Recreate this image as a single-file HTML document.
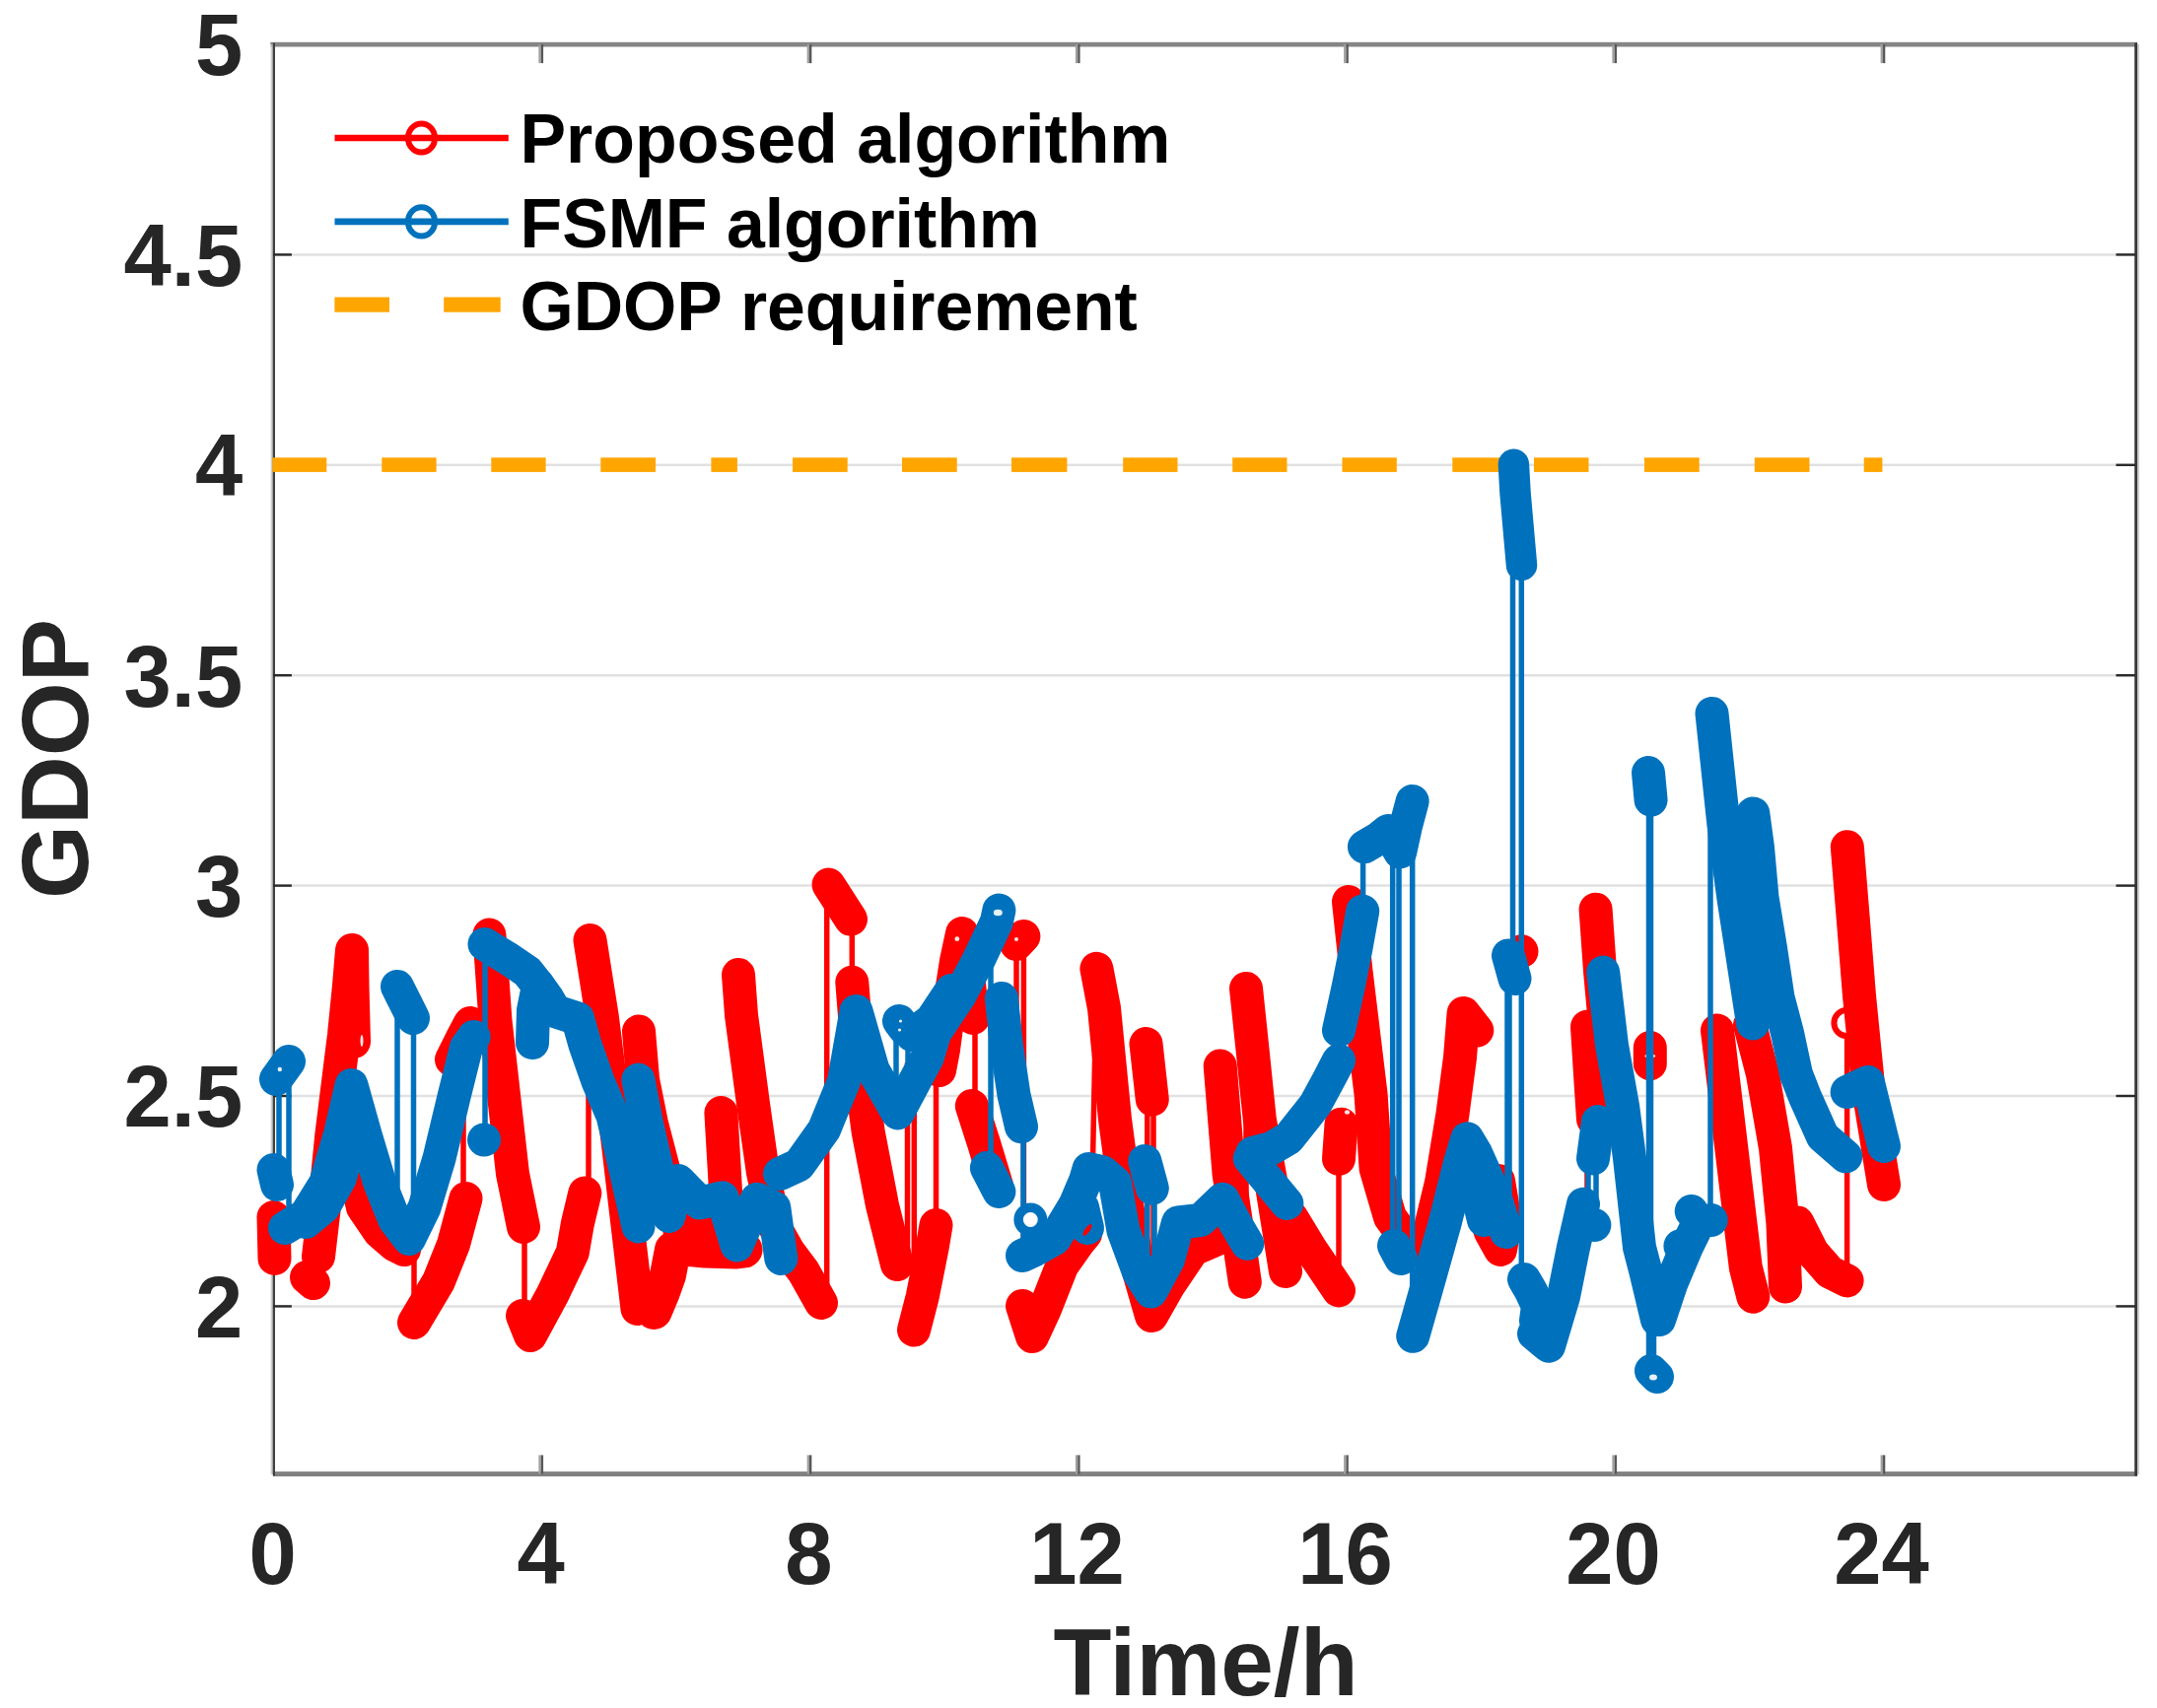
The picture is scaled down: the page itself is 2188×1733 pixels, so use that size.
<!DOCTYPE html>
<html lang="en"><head><meta charset="utf-8"><title>GDOP comparison</title>
<style>html,body{margin:0;padding:0;background:#fff}body{width:2188px;height:1733px;overflow:hidden}svg{display:block}#fig{width:2188px;height:1733px}text{font-family:"Liberation Sans",sans-serif;font-weight:bold}.tk{font-size:89px;fill:#262626}.al{font-size:96.5px;fill:#262626}.lg{font-size:70.5px;fill:#000}</style></head><body><div id="fig">
<svg width="2188" height="1733" viewBox="0 0 2188 1733">
<rect x="0" y="0" width="2188" height="1733" fill="#fff"/>
<g stroke="#e1e1e1" stroke-width="2.5" fill="none">
<line x1="277.2" y1="258.4" x2="2166.0" y2="258.4"/>
<line x1="277.2" y1="471.8" x2="2166.0" y2="471.8"/>
<line x1="277.2" y1="685.2" x2="2166.0" y2="685.2"/>
<line x1="277.2" y1="898.6" x2="2166.0" y2="898.6"/>
<line x1="277.2" y1="1112.0" x2="2166.0" y2="1112.0"/>
<line x1="277.2" y1="1325.4" x2="2166.0" y2="1325.4"/>
</g>
<rect x="274.30" y="42.80" width="1893.90" height="4.70" fill="#858585"/>
<rect x="276.90" y="1493.10" width="1891.30" height="4.90" fill="#818181"/>
<rect x="274.30" y="45.00" width="1.30" height="1451.00" fill="#e2e2e2"/>
<rect x="275.60" y="45.00" width="1.30" height="1451.00" fill="#a8a8a8"/>
<rect x="276.90" y="43.50" width="2.10" height="1454.00" fill="#404040"/>
<rect x="2165.20" y="43.50" width="2.80" height="1454.00" fill="#383838"/>
<rect x="2168.00" y="45.00" width="2.00" height="1451.00" fill="#cccccc"/>
<rect x="546.40" y="45.00" width="2.35" height="19.10" fill="#a0a0a0"/>
<rect x="548.75" y="45.00" width="2.35" height="19.10" fill="#585858"/>
<rect x="546.40" y="1476.40" width="2.35" height="19.10" fill="#a0a0a0"/>
<rect x="548.75" y="1476.40" width="2.35" height="19.10" fill="#585858"/>
<rect x="818.64" y="45.00" width="2.35" height="19.10" fill="#a0a0a0"/>
<rect x="820.99" y="45.00" width="2.35" height="19.10" fill="#585858"/>
<rect x="818.64" y="1476.40" width="2.35" height="19.10" fill="#a0a0a0"/>
<rect x="820.99" y="1476.40" width="2.35" height="19.10" fill="#585858"/>
<rect x="1090.88" y="45.00" width="2.35" height="19.10" fill="#a0a0a0"/>
<rect x="1093.23" y="45.00" width="2.35" height="19.10" fill="#585858"/>
<rect x="1090.88" y="1476.40" width="2.35" height="19.10" fill="#a0a0a0"/>
<rect x="1093.23" y="1476.40" width="2.35" height="19.10" fill="#585858"/>
<rect x="1363.12" y="45.00" width="2.35" height="19.10" fill="#a0a0a0"/>
<rect x="1365.47" y="45.00" width="2.35" height="19.10" fill="#585858"/>
<rect x="1363.12" y="1476.40" width="2.35" height="19.10" fill="#a0a0a0"/>
<rect x="1365.47" y="1476.40" width="2.35" height="19.10" fill="#585858"/>
<rect x="1635.36" y="45.00" width="2.35" height="19.10" fill="#a0a0a0"/>
<rect x="1637.71" y="45.00" width="2.35" height="19.10" fill="#585858"/>
<rect x="1635.36" y="1476.40" width="2.35" height="19.10" fill="#a0a0a0"/>
<rect x="1637.71" y="1476.40" width="2.35" height="19.10" fill="#585858"/>
<rect x="1907.60" y="45.00" width="2.35" height="19.10" fill="#a0a0a0"/>
<rect x="1909.95" y="45.00" width="2.35" height="19.10" fill="#585858"/>
<rect x="1907.60" y="1476.40" width="2.35" height="19.10" fill="#a0a0a0"/>
<rect x="1909.95" y="1476.40" width="2.35" height="19.10" fill="#585858"/>
<rect x="277.10" y="257.20" width="18.80" height="2.40" fill="#2a2a2a"/>
<rect x="2146.40" y="257.20" width="19.60" height="2.40" fill="#2a2a2a"/>
<rect x="277.10" y="470.60" width="18.80" height="2.40" fill="#2a2a2a"/>
<rect x="2146.40" y="470.60" width="19.60" height="2.40" fill="#2a2a2a"/>
<rect x="277.10" y="684.00" width="18.80" height="2.40" fill="#2a2a2a"/>
<rect x="2146.40" y="684.00" width="19.60" height="2.40" fill="#2a2a2a"/>
<rect x="277.10" y="897.40" width="18.80" height="2.40" fill="#2a2a2a"/>
<rect x="2146.40" y="897.40" width="19.60" height="2.40" fill="#2a2a2a"/>
<rect x="277.10" y="1110.80" width="18.80" height="2.40" fill="#2a2a2a"/>
<rect x="2146.40" y="1110.80" width="19.60" height="2.40" fill="#2a2a2a"/>
<rect x="277.10" y="1324.20" width="18.80" height="2.40" fill="#2a2a2a"/>
<rect x="2146.40" y="1324.20" width="19.60" height="2.40" fill="#2a2a2a"/>
<g fill="#ffa500">
<rect x="276.4" y="464.3" width="54.9" height="14.6"/>
<rect x="387.3" y="464.3" width="55.3" height="14.6"/>
<rect x="498.3" y="464.3" width="55.3" height="14.6"/>
<rect x="609.3" y="464.3" width="55.7" height="14.6"/>
<rect x="721.4" y="464.3" width="26.5" height="14.6"/>
<rect x="804.0" y="464.3" width="55.7" height="14.6"/>
<rect x="915.0" y="464.3" width="55.7" height="14.6"/>
<rect x="1026.0" y="464.3" width="56.4" height="14.6"/>
<rect x="1139.2" y="464.3" width="55.3" height="14.6"/>
<rect x="1250.2" y="464.3" width="55.3" height="14.6"/>
<rect x="1361.5" y="464.3" width="55.3" height="14.6"/>
<rect x="1473.3" y="464.3" width="56.7" height="14.6"/>
<rect x="1556.0" y="464.3" width="55.5" height="14.6"/>
<rect x="1668.0" y="464.3" width="55.7" height="14.6"/>
<rect x="1779.8" y="464.3" width="55.7" height="14.6"/>
<rect x="1890.7" y="464.3" width="18.7" height="14.6"/>
</g>
<clipPath id="cp"><rect x="257.2" y="45.0" width="1908.8" height="1450.0"/></clipPath>
<g clip-path="url(#cp)">
<g stroke="#ff0000" fill="none" stroke-linecap="butt" stroke-width="5.5">
<line x1="420.0" y1="1270.0" x2="420.0" y2="1342.0"/>
<line x1="470.0" y1="1040.0" x2="470.0" y2="1216.0"/>
<line x1="532.0" y1="1245.0" x2="532.0" y2="1340.0"/>
<line x1="597.0" y1="955.0" x2="597.0" y2="1210.0"/>
<line x1="838.7" y1="898.0" x2="838.7" y2="1322.0"/>
<line x1="864.3" y1="933.0" x2="864.3" y2="997.0"/>
<line x1="920.5" y1="1078.0" x2="920.5" y2="1290.0"/>
<line x1="927.3" y1="1085.0" x2="927.3" y2="1349.0"/>
<line x1="949.5" y1="1086.0" x2="949.5" y2="1243.0"/>
<line x1="989.0" y1="1033.0" x2="989.0" y2="1122.0"/>
<line x1="1031.0" y1="955.0" x2="1031.0" y2="1150.0"/>
<line x1="1038.4" y1="950.0" x2="1038.4" y2="1270.0"/>
<line x1="1163.8" y1="1115.0" x2="1163.8" y2="1335.0"/>
<line x1="1170.0" y1="1115.0" x2="1170.0" y2="1335.0"/>
<line x1="1264.0" y1="1003.0" x2="1264.0" y2="1300.0"/>
<line x1="1358.0" y1="1176.0" x2="1358.0" y2="1309.0"/>
<line x1="1610.0" y1="1135.0" x2="1610.0" y2="1215.0"/>
<line x1="1873.6" y1="1040.0" x2="1873.6" y2="1299.0"/>
<line x1="1107.0" y1="1253.0" x2="1112.4" y2="983.0"/>
</g>
<g stroke="#ff0000" fill="#fff" stroke-width="6">
<circle cx="1873.6" cy="1038.0" r="13.2" stroke-width="6"/>
</g>
<g stroke="#ff0000" fill="none" stroke-linecap="round" stroke-linejoin="round" stroke-width="34">
<polyline points="277.5,1235.0 278.5,1277.0"/>
<polyline points="311.0,1296.0 318.0,1302.0"/>
<polyline points="323.0,1275.0 330.0,1215.0 336.5,1150.0 349.0,1050.0 354.0,1000.0 357.0,964.0 357.5,1000.0 359.0,1057.0"/>
<polyline points="362.0,1200.0 368.0,1225.0 385.0,1250.0 400.0,1263.0 410.0,1268.0"/>
<polyline points="420.0,1342.0 445.0,1300.0 460.0,1262.5 472.5,1216.0"/>
<polyline points="458.0,1075.0 468.0,1055.0 477.0,1038.0"/>
<polyline points="496.4,948.5 502.4,1035.0 520.0,1191.0 531.0,1245.0"/>
<polyline points="530.0,1335.0 538.0,1355.0 560.7,1313.0 580.8,1270.7 585.8,1241.8 593.3,1210.5"/>
<polyline points="598.5,954.0 611.0,1033.0 626.3,1155.6 646.5,1328.0"/>
<polyline points="663.3,1330.5 671.0,1312.0 677.5,1293.8 682.5,1268.0 700.0,1266.5 715.4,1268.0 747.0,1269.0 755.0,1268.0" stroke-width="37"/>
<polyline points="648.0,1046.5 652.0,1095.0 661.0,1140.0 673.0,1186.0 685.0,1232.0 690.0,1250.0 710.0,1245.0 735.0,1242.0"/>
<polyline points="731.4,1129.0 736.4,1215.4 745.0,1255.0"/>
<polyline points="749.0,989.0 752.0,1030.0 758.0,1075.0 764.0,1120.0 774.0,1190.0 786.0,1245.0 800.0,1270.0 815.0,1290.0 833.0,1322.0"/>
<polyline points="840.5,897.6 863.0,932.7"/>
<polyline points="864.3,996.6 869.3,1060.5 880.6,1148.0 895.0,1223.0 910.0,1283.0"/>
<polyline points="927.0,1349.5 935.7,1315.7 945.7,1265.6 949.5,1243.0"/>
<polyline points="953.0,1086.0 957.0,1065.0 963.0,1020.0 970.0,975.0 976.0,947.0 982.0,990.0 987.0,1033.0"/>
<polyline points="985.8,1122.0 998.0,1160.0 1011.0,1203.0"/>
<polyline points="1031.0,958.0 1038.4,950.0"/>
<polyline points="1037.0,1325.0 1047.0,1356.0 1060.0,1328.0 1077.3,1284.2 1094.2,1260.3 1101.0,1252.0"/>
<polyline points="1112.4,982.8 1120.0,1023.0 1131.0,1135.7 1141.0,1211.0 1155.0,1290.0 1168.0,1335.0 1185.0,1305.0 1210.0,1268.0 1240.0,1255.0"/>
<polyline points="1162.5,1059.0 1168.8,1115.6"/>
<polyline points="1237.7,1081.4 1246.5,1190.4 1257.7,1265.6 1262.8,1300.7"/>
<polyline points="1264.0,1002.9 1270.0,1060.0 1277.8,1135.7 1290.3,1205.0 1304.0,1290.0"/>
<polyline points="1310.0,1235.0 1330.0,1268.0 1358.0,1309.4"/>
<polyline points="1358.0,1175.8 1360.5,1140.7"/>
<polyline points="1368.0,915.0 1375.5,985.3 1390.6,1110.6 1395.6,1185.8 1410.0,1235.0 1432.0,1265.0 1450.0,1250.0 1462.0,1200.0 1473.5,1130.0 1481.0,1073.0 1484.6,1028.0 1498.3,1045.5"/>
<polyline points="1543.5,965.3 1543.5,965.3"/>
<polyline points="1500.0,1215.0 1512.0,1250.0 1522.0,1268.0 1527.0,1240.0 1520.0,1198.0"/>
<polyline points="1618.6,922.7 1623.0,985.0 1628.0,1040.0"/>
<polyline points="1610.0,1041.7 1613.0,1090.0 1616.0,1135.7"/>
<polyline points="1673.8,1063.0 1673.8,1079.3"/>
<polyline points="1742.0,1045.5 1755.8,1160.8 1770.8,1286.0 1778.3,1315.7"/>
<polyline points="1775.0,1040.0 1788.0,1090.0 1801.0,1165.0 1808.4,1240.5 1811.0,1305.6"/>
<polyline points="1823.4,1240.5 1838.5,1270.6 1856.0,1290.6 1873.6,1299.4"/>
<polyline points="1873.8,859.2 1880.0,935.0 1886.0,1010.4 1896.0,1110.6 1911.0,1202.0"/>
</g>
<g fill="#fff" fill-opacity="0.9">
<ellipse cx="1673.8" cy="1071.5" rx="5.5" ry="2.2"/>
<ellipse cx="1366.5" cy="1128.5" rx="2.6" ry="2.2"/>
<ellipse cx="970.8" cy="952.7" rx="2.4" ry="2.4"/>
<ellipse cx="1031.0" cy="953.0" rx="2" ry="2"/>
<ellipse cx="367.0" cy="1056.0" rx="1.5" ry="6"/>
</g>
<g stroke="#0072bd" fill="none" stroke-linecap="butt" stroke-width="5.5">
<line x1="283.0" y1="1095.0" x2="283.0" y2="1187.0"/>
<line x1="293.0" y1="1077.0" x2="293.0" y2="1245.0"/>
<line x1="403.0" y1="1001.0" x2="403.0" y2="1245.0"/>
<line x1="419.5" y1="1033.0" x2="419.5" y2="1255.0"/>
<line x1="492.0" y1="957.0" x2="492.0" y2="1157.0"/>
<line x1="909.0" y1="1044.0" x2="909.0" y2="1120.0"/>
<line x1="921.0" y1="1044.0" x2="921.0" y2="1100.0"/>
<line x1="1005.0" y1="924.0" x2="1005.0" y2="1185.0"/>
<line x1="1038.0" y1="1143.0" x2="1038.0" y2="1270.0"/>
<line x1="1163.5" y1="1205.0" x2="1163.5" y2="1300.0"/>
<line x1="1171.0" y1="1205.0" x2="1171.0" y2="1310.0"/>
<line x1="1382.6" y1="859.0" x2="1382.6" y2="921.0"/>
<line x1="1412.7" y1="865.0" x2="1412.7" y2="1270.0"/>
<line x1="1419.0" y1="865.0" x2="1419.0" y2="1270.0"/>
<line x1="1432.7" y1="813.0" x2="1432.7" y2="1356.0"/>
<line x1="1531.0" y1="993.0" x2="1531.0" y2="1253.0"/>
<line x1="1529.0" y1="969.0" x2="1529.0" y2="1253.0"/>
<line x1="1534.5" y1="471.0" x2="1534.5" y2="969.0"/>
<line x1="1543.3" y1="573.0" x2="1543.3" y2="1298.0"/>
<line x1="1611.0" y1="1175.0" x2="1611.0" y2="1225.0"/>
<line x1="1619.0" y1="1175.0" x2="1619.0" y2="1240.0"/>
<line x1="1677.5" y1="1341.0" x2="1677.5" y2="1394.0"/>
<line x1="1673.5" y1="784.0" x2="1673.5" y2="1394.0" stroke-width="7.5"/>
<line x1="1735.0" y1="724.0" x2="1735.0" y2="1238.0"/>
</g>
<g stroke="#0072bd" fill="#fff" stroke-width="6">
<circle cx="1045.3" cy="1237.5" r="12.2" stroke-width="9.5"/>
</g>
<g stroke="#0072bd" fill="none" stroke-linecap="round" stroke-linejoin="round" stroke-width="34">
<polyline points="277.5,1187.0 281.0,1202.0"/>
<polyline points="280.0,1095.0 293.0,1077.0"/>
<polyline points="289.0,1246.0 310.0,1233.0 330.2,1200.5 345.2,1150.4 356.5,1101.0 370.3,1150.4 385.3,1200.5 400.4,1238.0 415.0,1257.0 430.4,1225.6 445.5,1175.4 460.5,1112.8 473.0,1062.7 480.6,1052.0"/>
<polyline points="310.0,1240.0 328.0,1225.0 345.0,1195.0 352.0,1170.0"/>
<polyline points="403.0,1001.0 419.0,1033.0"/>
<polyline points="491.0,1156.5 491.0,1156.5"/>
<polyline points="491.5,958.0 516.0,973.0 535.0,986.0 546.0,1000.0 541.0,1025.0 540.0,1058.0"/>
<polyline points="546.0,1000.0 556.0,1014.0 563.0,1026.0 586.0,1033.5 593.5,1060.0 606.5,1097.0 621.5,1132.0 635.0,1189.0 647.5,1244.5"/>
<polyline points="647.4,1095.6 656.0,1140.0 666.5,1186.0 678.5,1234.0 688.0,1198.0 710.0,1220.5 732.7,1215.4 747.5,1263.5 767.8,1216.7 785.3,1225.5 792.3,1277.0"/>
<polyline points="791.0,1191.0 810.4,1182.0 836.0,1146.0 856.0,1097.0 868.5,1026.0 885.6,1085.6 910.6,1129.4 940.7,1073.0 948.2,1048.0 973.3,1010.4 993.3,972.8 1010.9,935.2 1013.4,923.5"/>
<polyline points="912.0,1036.0 918.0,1044.0"/>
<polyline points="925.0,1050.0 945.0,1035.0 965.0,1005.0"/>
<polyline points="1000.9,1185.0 1013.4,1209.0"/>
<polyline points="1015.9,1012.9 1020.9,1060.5 1028.4,1110.6 1036.0,1143.2"/>
<polyline points="1037.0,1274.0 1050.0,1268.0 1069.7,1257.0 1090.8,1222.0 1101.0,1198.0 1104.5,1186.0 1118.0,1189.0 1131.0,1200.0 1139.4,1248.4 1154.9,1290.5 1167.5,1310.5 1185.0,1278.0 1195.0,1240.5 1217.7,1238.0 1240.2,1216.7 1252.7,1240.5 1265.3,1261.8"/>
<polyline points="1098.0,1225.0 1103.0,1246.0"/>
<polyline points="1161.3,1178.0 1168.8,1205.7"/>
<polyline points="1267.8,1175.5 1305.4,1221.0"/>
<polyline points="1270.3,1170.0 1290.0,1165.0 1307.0,1155.0 1334.0,1121.0 1347.0,1097.0 1358.0,1076.0"/>
<polyline points="1358.0,1045.5 1368.0,1000.0 1375.5,962.0 1382.2,924.5"/>
<polyline points="1383.9,859.2 1398.0,851.0 1408.0,843.0 1420.2,864.5 1426.0,838.0 1432.7,812.9"/>
<polyline points="1414.0,1264.0 1421.0,1277.0"/>
<polyline points="1433.2,1355.8 1448.2,1303.0 1465.8,1240.5 1480.8,1180.4 1488.3,1155.3 1497.0,1170.0 1506.0,1190.0 1516.0,1212.0 1523.0,1235.0 1528.0,1250.0"/>
<polyline points="1497.0,1205.0 1505.0,1238.0"/>
<polyline points="1530.0,969.5 1536.5,993.0"/>
<polyline points="1535.4,471.3 1537.0,500.0 1543.5,573.5" stroke-width="31.5"/>
<polyline points="1546.0,1298.0 1553.0,1310.0 1560.0,1325.0 1558.0,1340.0"/>
<polyline points="1556.0,1353.3 1571.0,1365.8 1586.0,1315.7 1596.0,1265.6 1606.0,1221.7"/>
<polyline points="1617.4,1243.0 1617.4,1243.0"/>
<polyline points="1621.0,1138.0 1616.0,1175.5"/>
<polyline points="1626.2,986.6 1635.0,1060.5 1646.2,1123.0 1653.0,1175.0 1663.0,1265.6 1669.5,1290.6 1681.0,1339.0"/>
<polyline points="1675.0,1391.0 1681.0,1397.0"/>
<polyline points="1672.0,784.0 1674.6,811.6"/>
<polyline points="1683.0,1339.0 1695.0,1303.0 1710.7,1265.6 1723.0,1240.5"/>
<polyline points="1715.7,1229.0 1715.7,1229.0"/>
<polyline points="1735.7,1238.0 1735.7,1238.0"/>
<polyline points="1704.4,1264.3 1704.4,1264.3"/>
<polyline points="1736.5,723.9 1748.3,835.4 1758.3,910.6 1778.0,1038.4"/>
<polyline points="1778.3,825.4 1783.0,860.0 1787.5,910.6 1796.0,962.0 1803.5,1012.0 1813.0,1048.0 1822.0,1090.0 1831.0,1113.0 1849.0,1153.2 1872.3,1173.3"/>
<polyline points="1873.6,1108.0 1894.9,1098.0 1911.0,1163.0"/>
</g>
<g fill="#fff" fill-opacity="0.9">
<ellipse cx="1012.3" cy="926.0" rx="4.5" ry="3.2"/>
<ellipse cx="283.8" cy="1085.0" rx="2.2" ry="2.2"/>
<ellipse cx="913.5" cy="1036.0" rx="1.6" ry="1.6"/>
<ellipse cx="912.5" cy="1045.0" rx="1.6" ry="1.6"/>
<ellipse cx="1677.0" cy="1397.5" rx="4" ry="3"/>
</g>
<ellipse cx="1103.0" cy="1248.0" rx="2.5" ry="7" fill="#ff0000" transform="rotate(35 1103.0 1248.0)"/>
</g>
<text class="tk" transform="translate(276.6,1607.0) scale(0.975,1)" text-anchor="middle">0</text>
<text class="tk" transform="translate(548.6,1607.0) scale(0.975,1)" text-anchor="middle">4</text>
<text class="tk" transform="translate(820.5,1607.0) scale(0.975,1)" text-anchor="middle">8</text>
<text class="tk" transform="translate(1092.5,1607.0) scale(0.975,1)" text-anchor="middle">12</text>
<text class="tk" transform="translate(1364.4,1607.0) scale(0.975,1)" text-anchor="middle">16</text>
<text class="tk" transform="translate(1636.4,1607.0) scale(0.975,1)" text-anchor="middle">20</text>
<text class="tk" transform="translate(1908.4,1607.0) scale(0.975,1)" text-anchor="middle">24</text>
<text class="tk" transform="translate(246.2,76.3) scale(0.975,1)" text-anchor="end">5</text>
<text class="tk" transform="translate(246.2,289.7) scale(0.975,1)" text-anchor="end">4.5</text>
<text class="tk" transform="translate(246.2,503.1) scale(0.975,1)" text-anchor="end">4</text>
<text class="tk" transform="translate(246.2,716.5) scale(0.975,1)" text-anchor="end">3.5</text>
<text class="tk" transform="translate(246.2,929.9) scale(0.975,1)" text-anchor="end">3</text>
<text class="tk" transform="translate(246.2,1143.3) scale(0.975,1)" text-anchor="end">2.5</text>
<text class="tk" transform="translate(246.2,1356.7) scale(0.975,1)" text-anchor="end">2</text>
<text class="al" x="1223.0" y="1720.0" text-anchor="middle">Time/h</text>
<text class="al" transform="translate(88.8,770.0) rotate(-90)" text-anchor="middle">GDOP</text>
<g fill="none" stroke-width="6.6">
<line x1="339.5" y1="140" x2="515.8" y2="140" stroke="#ff0000"/>
<ellipse cx="427.5" cy="140" rx="13.6" ry="14.6" stroke="#ff0000" stroke-width="6"/>
<line x1="339.5" y1="224.9" x2="515.8" y2="224.9" stroke="#0072bd"/>
<ellipse cx="427.5" cy="224.9" rx="13.6" ry="14.6" stroke="#0072bd" stroke-width="6"/>
</g>
<rect x="339.4" y="301.5" width="55.6" height="15.2" fill="#ffa500"/>
<rect x="450.2" y="301.5" width="57.5" height="15.2" fill="#ffa500"/>
<text class="lg" x="527.5" y="165.0" textLength="660.0" lengthAdjust="spacingAndGlyphs">Proposed algorithm</text>
<text class="lg" x="527.5" y="250.6" textLength="527.4" lengthAdjust="spacingAndGlyphs">FSMF algorithm</text>
<text class="lg" x="527.5" y="335.4" textLength="626.3" lengthAdjust="spacingAndGlyphs">GDOP requirement</text>
</svg></div></body></html>
